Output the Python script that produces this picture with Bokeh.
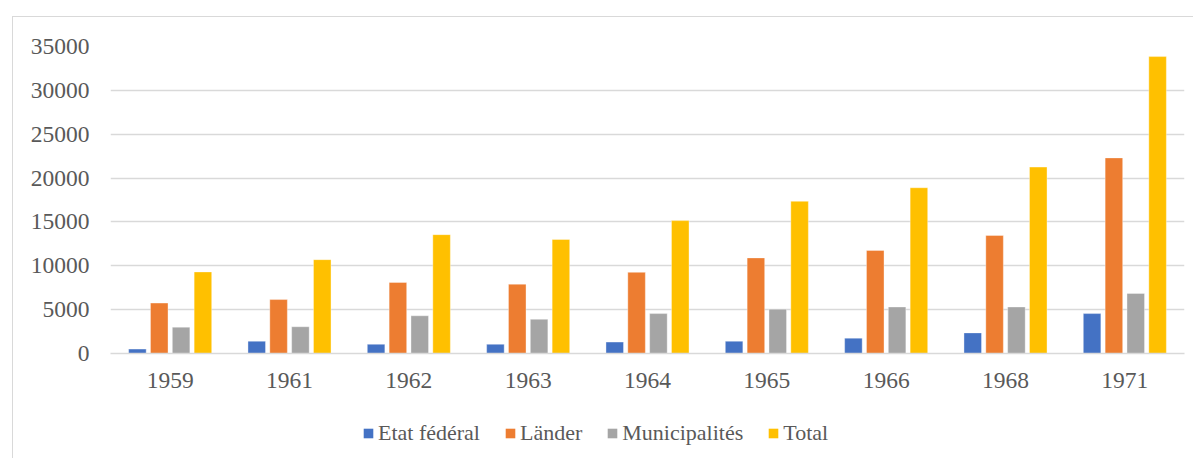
from bokeh.plotting import figure
from bokeh.models import ColumnDataSource, FixedTicker, Legend, LegendItem, FactorRange, Column
from bokeh.transform import dodge
from bokeh.embed import file_html
from bokeh.resources import INLINE

years = ["1959", "1961", "1962", "1963", "1964", "1965", "1966", "1968", "1971"]
etat_federal = [500, 1400, 1050, 1050, 1300, 1400, 1750, 2350, 4550]
laender = [5750, 6150, 8100, 7900, 9250, 10900, 11750, 13450, 22300]
municipalites = [3000, 3050, 4300, 3900, 4550, 5050, 5300, 5300, 6850]
total = [9300, 10700, 13550, 13000, 15150, 17350, 18900, 21250, 33850]
series_names = ["Etat fédéral", "Länder", "Municipalités", "Total"]
y_ticks = [0, 5000, 10000, 15000, 20000, 25000, 30000, 35000]

colors = ["#4472C4", "#ED7D31", "#A5A5A5", "#FFC000"]
FONT = "Liberation Serif"
TXT = "#595959"
GRID = "#d9d9d9"

src = ColumnDataSource(dict(year=years, s0=etat_federal, s1=laender, s2=municipalites, s3=total))

p = figure(
    x_range=FactorRange(*years, range_padding=0),
    y_range=(0, 35000),
    width=1180, height=386,
    output_backend="svg", toolbar_location=None,
    min_border_left=97, min_border_right=9, min_border_top=29, min_border_bottom=50,
)
p.outline_line_color = None
p.background_fill_color = "white"
p.border_fill_color = "white"

step = 0.183
width = 0.147
offsets = [-1.5 * step, -0.5 * step, 0.5 * step, 1.5 * step]
cols = ["s0", "s1", "s2", "s3"]
for i, col in enumerate(cols):
    p.vbar(x=dodge("year", offsets[i], range=p.x_range), top=col, width=width,
           bottom=0, source=src, fill_color=colors[i], line_color="white", line_width=0.6,
           line_alpha=0.6)

p.xgrid.grid_line_color = None
p.ygrid.grid_line_color = GRID
p.ygrid.grid_line_width = 1.3
p.ygrid.ticker = FixedTicker(ticks=y_ticks)

p.yaxis.ticker = FixedTicker(ticks=y_ticks)
p.yaxis.axis_line_color = None
p.yaxis.major_tick_line_color = None
p.yaxis.minor_tick_line_color = None
p.yaxis.major_label_standoff = 15
p.yaxis.major_label_text_font = FONT
p.yaxis.major_label_text_font_size = "23.5px"
p.yaxis.major_label_text_color = TXT

p.xaxis.axis_line_color = GRID
p.xaxis.axis_line_width = 1.3
p.xaxis.major_tick_line_color = None
p.xaxis.minor_tick_line_color = None
p.xaxis.major_label_standoff = 13
p.xaxis.major_label_text_font = FONT
p.xaxis.major_label_text_font_size = "23.5px"
p.xaxis.major_label_text_color = TXT

# legend strip below the chart (its renderers are zero-height, so only the legend shows)
lg = figure(width=1180, height=55, x_range=(0, 1), y_range=(0, 1),
            output_backend="svg", toolbar_location=None,
            min_border_left=0, min_border_right=0, min_border_top=0, min_border_bottom=0)
lg.outline_line_color = None
lg.axis.visible = False
lg.grid.grid_line_color = None
lg.border_fill_color = "white"
lg.background_fill_color = "white"
lg_src = ColumnDataSource(dict(x=[0.5], z=[0]))
lg_rs = [lg.vbar(x="x", top="z", bottom="z", width=0.001, source=lg_src,
                 fill_color=colors[i], line_color=None) for i in range(4)]
legend = Legend(
    items=[LegendItem(label=series_names[i], renderers=[lg_rs[i]]) for i in range(4)],
    orientation="horizontal",
    location=(252, 12),
    glyph_width=12, glyph_height=12,
    label_standoff=4, spacing=24,
    label_text_font=FONT, label_text_font_size="22px", label_text_color=TXT,
    border_line_color=None, background_fill_alpha=0,
    padding=0, margin=0,
)
lg.add_layout(legend, "center")

layout = Column(p, lg, spacing=0,
                styles={"margin-left": "12px", "margin-top": "16px",
                        "border-left": "1px solid #d9d9d9", "border-top": "1px solid #d9d9d9"})

open("out.html", "w").write(file_html(layout, INLINE))
